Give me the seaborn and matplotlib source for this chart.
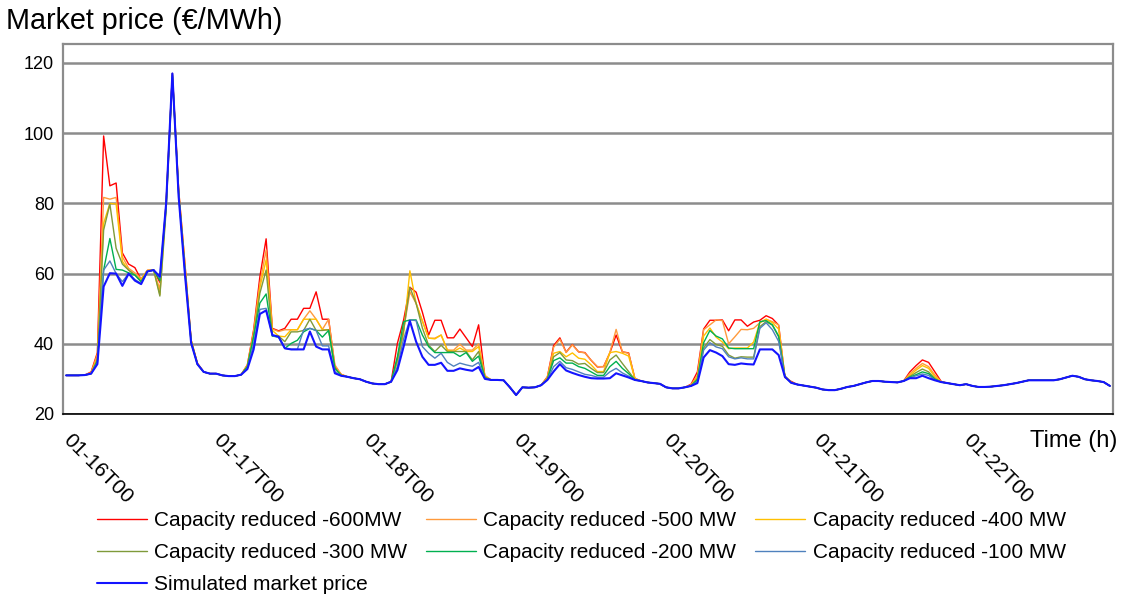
import matplotlib
matplotlib.use("Agg")
import matplotlib.pyplot as plt
import matplotlib.transforms as mtransforms
import seaborn as sns
from matplotlib.ticker import FixedLocator

# ---------------- data (hourly, 168 hours from 01-16T00) ----------------
hours = list(range(168))
day_ticks = [0, 24, 48, 72, 96, 120, 144]
day_labels = ["01-16T00", "01-17T00", "01-18T00", "01-19T00",
              "01-20T00", "01-21T00", "01-22T00"]
y_ticks = [20, 40, 60, 80, 100, 120]

simulated = [
    31.0, 31.0, 31.0, 31.1, 31.5, 34.2, 56.3, 60.1, 60.0, 56.5, 60.0, 58.0, 57.0, 60.6, 61.0, 59.1, 80.0, 117.0, 82.0, 60.0, 40.2, 34.2, 32.0, 31.5,
    31.5, 31.0, 30.8, 30.8, 31.2, 32.8, 38.4, 48.5, 49.5, 42.5, 42.0, 38.7, 38.4, 38.4, 38.4, 43.5, 39.2, 38.4, 38.4, 31.6, 30.9, 30.6, 30.2, 29.9,
    29.2, 28.7, 28.5, 28.5, 29.2, 32.5, 39.2, 46.5, 40.6, 36.3, 34.0, 34.0, 34.6, 32.3, 32.3, 33.0, 32.6, 32.3, 33.4, 30.0, 29.7, 29.7, 29.6, 27.6,
    25.4, 27.6, 27.5, 27.6, 28.2, 29.7, 32.1, 34.2, 32.4, 31.7, 31.1, 30.6, 30.2, 30.1, 30.1, 30.2, 31.6, 31.0, 30.4, 29.7, 29.4, 29.0, 28.8, 28.6,
    27.6, 27.3, 27.3, 27.6, 28.0, 28.8, 36.1, 38.2, 37.5, 36.5, 34.2, 34.0, 34.4, 34.2, 34.1, 38.4, 38.4, 38.4, 36.8, 30.6, 28.9, 28.4, 28.1, 27.8,
    27.5, 27.0, 26.8, 26.8, 27.2, 27.7, 28.0, 28.5, 29.0, 29.4, 29.4, 29.2, 29.1, 29.0, 29.4, 30.2, 30.2, 30.9, 30.2, 29.6, 29.1, 28.8, 28.5, 28.2,
    28.5, 28.0, 27.7, 27.7, 27.8, 28.0, 28.2, 28.5, 28.8, 29.2, 29.6, 29.6, 29.6, 29.6, 29.6, 29.9, 30.4, 30.9, 30.6, 29.9, 29.6, 29.4, 29.1, 28.0,
]

reduced_600 = [
    31.0, 31.0, 31.0, 31.1, 32.0, 37.5, 99.2, 85.0, 85.8, 65.9, 62.7, 61.7, 58.3, 60.9, 61.0, 57.5, 80.0, 117.0, 84.0, 63.0, 41.0, 34.5, 32.0, 31.5,
    31.5, 31.0, 30.8, 30.8, 31.2, 34.0, 44.0, 59.1, 69.9, 44.4, 43.7, 44.4, 47.0, 47.0, 50.1, 50.1, 54.8, 47.0, 47.0, 33.5, 31.3, 30.6, 30.2, 29.9,
    29.2, 28.7, 28.5, 28.5, 29.2, 40.1, 46.8, 56.1, 54.7, 49.0, 42.5, 46.7, 46.7, 41.7, 41.7, 44.2, 41.7, 39.2, 45.4, 30.6, 29.7, 29.7, 29.6, 27.6,
    25.4, 27.6, 27.5, 27.6, 28.2, 30.6, 39.5, 41.7, 37.6, 39.8, 37.7, 37.5, 35.3, 33.4, 33.5, 37.4, 42.5, 37.7, 37.4, 30.1, 29.4, 29.0, 28.8, 28.6,
    27.6, 27.3, 27.3, 27.6, 28.5, 32.0, 44.2, 46.7, 46.7, 46.8, 43.7, 46.8, 46.8, 45.0, 46.2, 46.7, 48.0, 47.2, 45.3, 30.4, 29.3, 28.4, 28.1, 27.8,
    27.5, 27.0, 26.8, 26.8, 27.2, 27.7, 28.0, 28.5, 29.0, 29.4, 29.4, 29.2, 29.1, 29.0, 29.4, 32.0, 33.8, 35.4, 34.7, 32.0, 29.3, 28.8, 28.5, 28.2,
    28.5, 28.0, 27.7, 27.7, 27.8, 28.0, 28.2, 28.5, 28.8, 29.2, 29.6, 29.6, 29.6, 29.6, 29.6, 29.9, 30.4, 30.9, 30.6, 29.9, 29.6, 29.4, 29.1, 28.0,
]

reduced_500 = [
    31.0, 31.0, 31.0, 31.1, 31.8, 37.0, 81.7, 81.2, 81.7, 64.8, 61.5, 60.2, 58.6, 60.9, 61.0, 55.5, 80.0, 117.0, 84.0, 63.0, 41.0, 34.5, 32.0, 31.5,
    31.5, 31.0, 30.8, 30.8, 31.2, 34.0, 43.5, 57.2, 66.7, 44.2, 43.5, 44.0, 44.0, 44.0, 47.0, 49.4, 47.0, 44.1, 47.0, 34.0, 31.3, 30.6, 30.2, 29.9,
    29.2, 28.7, 28.5, 28.5, 29.2, 36.0, 43.9, 54.8, 51.5, 46.5, 41.6, 41.6, 42.5, 38.2, 38.2, 39.9, 38.2, 38.2, 40.0, 31.0, 29.7, 29.7, 29.6, 27.6,
    25.4, 27.6, 27.5, 27.6, 28.2, 30.5, 39.0, 41.3, 37.5, 39.7, 37.7, 37.4, 35.3, 33.5, 33.5, 37.5, 44.1, 37.7, 37.3, 30.2, 29.4, 29.0, 28.8, 28.6,
    27.6, 27.3, 27.3, 27.6, 28.3, 31.0, 44.0, 45.4, 46.8, 46.6, 40.0, 42.0, 44.1, 44.0, 44.4, 46.0, 47.0, 46.3, 45.4, 30.8, 29.1, 28.4, 28.1, 27.8,
    27.5, 27.0, 26.8, 26.8, 27.2, 27.7, 28.0, 28.5, 29.0, 29.4, 29.4, 29.2, 29.1, 29.0, 29.4, 31.5, 33.0, 34.4, 33.5, 31.1, 29.2, 28.8, 28.5, 28.2,
    28.5, 28.0, 27.7, 27.7, 27.8, 28.0, 28.2, 28.5, 28.8, 29.2, 29.6, 29.6, 29.6, 29.6, 29.6, 29.9, 30.4, 30.9, 30.6, 29.9, 29.6, 29.4, 29.1, 28.0,
]

reduced_400 = [
    31.0, 31.0, 31.0, 31.1, 31.6, 36.0, 74.3, 80.0, 79.8, 63.5, 61.0, 59.6, 58.2, 60.9, 61.0, 54.0, 79.0, 116.5, 83.5, 62.0, 41.0, 34.3, 32.0, 31.5,
    31.5, 31.0, 30.8, 30.8, 31.2, 33.8, 42.5, 56.0, 63.9, 43.8, 42.2, 42.0, 44.0, 44.0, 47.0, 47.0, 47.0, 44.0, 44.0, 33.0, 31.2, 30.6, 30.2, 29.9,
    29.2, 28.7, 28.5, 28.5, 29.2, 34.8, 43.0, 60.8, 51.5, 46.5, 41.6, 41.4, 42.5, 38.2, 37.8, 38.8, 37.8, 37.8, 39.2, 30.8, 29.7, 29.7, 29.6, 27.6,
    25.4, 27.6, 27.5, 27.6, 28.2, 30.3, 37.3, 37.8, 36.3, 37.4, 35.9, 35.6, 34.0, 32.1, 32.1, 37.5, 37.8, 37.3, 36.5, 30.0, 29.4, 29.0, 28.8, 28.6,
    27.6, 27.3, 27.3, 27.6, 28.2, 30.5, 42.2, 44.5, 41.9, 40.5, 38.6, 38.8, 38.8, 38.8, 40.5, 46.0, 47.0, 46.0, 44.2, 30.8, 29.0, 28.4, 28.1, 27.8,
    27.5, 27.0, 26.8, 26.8, 27.2, 27.7, 28.0, 28.5, 29.0, 29.4, 29.4, 29.2, 29.1, 29.0, 29.4, 31.0, 32.5, 33.8, 33.0, 30.6, 29.1, 28.8, 28.5, 28.2,
    28.5, 28.0, 27.7, 27.7, 27.8, 28.0, 28.2, 28.5, 28.8, 29.2, 29.6, 29.6, 29.6, 29.6, 29.6, 29.9, 30.4, 30.9, 30.6, 29.9, 29.6, 29.4, 29.1, 28.0,
]

reduced_300 = [
    31.0, 31.0, 31.0, 31.1, 31.5, 35.5, 72.4, 79.8, 67.2, 62.7, 61.0, 59.6, 57.7, 60.6, 61.0, 53.6, 78.0, 116.0, 83.0, 61.5, 40.8, 34.2, 32.0, 31.5,
    31.5, 31.0, 30.8, 30.8, 31.2, 33.5, 42.0, 54.4, 61.0, 42.2, 42.2, 40.6, 43.4, 43.4, 43.8, 47.0, 43.8, 43.8, 44.0, 33.0, 31.0, 30.6, 30.2, 29.9,
    29.2, 28.7, 28.5, 28.5, 29.2, 35.5, 44.0, 56.1, 51.5, 44.5, 39.6, 37.8, 39.6, 37.8, 37.8, 37.8, 37.8, 35.4, 37.8, 30.5, 29.7, 29.7, 29.6, 27.6,
    25.4, 27.6, 27.5, 27.6, 28.2, 30.0, 36.3, 37.5, 35.4, 35.2, 34.2, 34.4, 33.0, 31.8, 31.8, 35.4, 36.8, 34.4, 32.1, 29.8, 29.4, 29.0, 28.8, 28.6,
    27.6, 27.3, 27.3, 27.6, 28.1, 30.0, 38.8, 41.2, 39.8, 39.3, 36.8, 35.9, 36.3, 36.2, 36.2, 44.9, 46.3, 45.3, 42.0, 30.7, 29.0, 28.4, 28.1, 27.8,
    27.5, 27.0, 26.8, 26.8, 27.2, 27.7, 28.0, 28.5, 29.0, 29.4, 29.4, 29.2, 29.1, 29.0, 29.4, 30.7, 31.8, 32.8, 32.0, 30.1, 29.1, 28.8, 28.5, 28.2,
    28.5, 28.0, 27.7, 27.7, 27.8, 28.0, 28.2, 28.5, 28.8, 29.2, 29.6, 29.6, 29.6, 29.6, 29.6, 29.9, 30.4, 30.9, 30.6, 29.9, 29.6, 29.4, 29.1, 28.0,
]

reduced_200 = [
    31.0, 31.0, 31.0, 31.1, 31.5, 35.0, 61.0, 70.0, 61.2, 61.0, 60.2, 59.6, 57.7, 60.6, 61.0, 58.0, 79.0, 116.5, 83.0, 61.0, 40.5, 34.2, 32.0, 31.5,
    31.5, 31.0, 30.8, 30.8, 31.2, 33.5, 42.0, 51.6, 54.2, 42.2, 41.9, 38.7, 40.1, 41.0, 43.4, 44.4, 43.8, 41.9, 43.8, 33.0, 31.0, 30.6, 30.2, 29.9,
    29.2, 28.7, 28.5, 28.5, 29.2, 36.3, 46.3, 46.8, 46.8, 42.5, 39.2, 37.5, 37.5, 37.5, 37.5, 36.4, 37.5, 35.0, 36.5, 30.3, 29.7, 29.7, 29.6, 27.6,
    25.4, 27.6, 27.5, 27.6, 28.2, 29.9, 35.2, 36.0, 34.5, 34.5, 33.5, 33.0, 32.0, 31.0, 31.0, 33.5, 35.0, 33.0, 31.5, 29.7, 29.4, 29.0, 28.8, 28.6,
    27.6, 27.3, 27.3, 27.6, 28.0, 29.8, 40.3, 43.8, 42.2, 41.4, 38.8, 38.6, 38.6, 38.6, 38.6, 46.3, 46.6, 45.4, 42.2, 30.7, 28.9, 28.4, 28.1, 27.8,
    27.5, 27.0, 26.8, 26.8, 27.2, 27.7, 28.0, 28.5, 29.0, 29.4, 29.4, 29.2, 29.1, 29.0, 29.4, 30.5, 31.2, 32.0, 31.5, 29.9, 29.1, 28.8, 28.5, 28.2,
    28.5, 28.0, 27.7, 27.7, 27.8, 28.0, 28.2, 28.5, 28.8, 29.2, 29.6, 29.6, 29.6, 29.6, 29.6, 29.9, 30.4, 30.9, 30.6, 29.9, 29.6, 29.4, 29.1, 28.0,
]

reduced_100 = [
    31.0, 31.0, 31.0, 31.1, 31.5, 34.6, 61.0, 63.6, 60.0, 57.7, 60.0, 58.3, 57.2, 60.6, 61.0, 58.8, 80.0, 117.0, 82.5, 60.5, 40.3, 34.2, 32.0, 31.5,
    31.5, 31.0, 30.8, 30.8, 31.2, 33.0, 40.0, 49.8, 50.1, 42.3, 41.9, 38.7, 38.4, 38.4, 44.0, 44.4, 43.8, 39.4, 39.4, 32.0, 30.9, 30.6, 30.2, 29.9,
    29.2, 28.7, 28.5, 28.5, 29.2, 33.5, 41.4, 46.8, 46.6, 39.2, 37.3, 35.9, 37.3, 34.7, 33.6, 34.5, 34.0, 33.6, 34.7, 30.1, 29.7, 29.7, 29.6, 27.6,
    25.4, 27.6, 27.5, 27.6, 28.2, 29.8, 33.5, 35.0, 33.2, 32.7, 32.0, 31.3, 31.0, 30.5, 30.5, 32.0, 33.0, 31.7, 30.8, 29.7, 29.4, 29.0, 28.8, 28.6,
    27.6, 27.3, 27.3, 27.6, 28.0, 29.3, 38.2, 40.3, 39.1, 38.6, 36.3, 35.7, 36.0, 35.7, 35.7, 44.4, 46.0, 44.0, 40.7, 30.7, 28.9, 28.4, 28.1, 27.8,
    27.5, 27.0, 26.8, 26.8, 27.2, 27.7, 28.0, 28.5, 29.0, 29.4, 29.4, 29.2, 29.1, 29.0, 29.4, 30.3, 30.9, 31.4, 31.0, 29.7, 29.1, 28.8, 28.5, 28.2,
    28.5, 28.0, 27.7, 27.7, 27.8, 28.0, 28.2, 28.5, 28.8, 29.2, 29.6, 29.6, 29.6, 29.6, 29.6, 29.9, 30.4, 30.9, 30.6, 29.9, 29.6, 29.4, 29.1, 28.0,
]

series_names = ["Capacity reduced -600MW", "Capacity reduced -500 MW",
                "Capacity reduced -400 MW", "Capacity reduced -300 MW",
                "Capacity reduced -200 MW", "Capacity reduced -100 MW",
                "Simulated market price"]
series_values = [reduced_600, reduced_500, reduced_400, reduced_300,
                 reduced_200, reduced_100, simulated]
series_colors = ["#FF0000", "#FF9A3C", "#FFC000", "#7F9A3A",
                 "#00B050", "#4F81BD", "#1414FF"]
series_widths = [1.0, 1.0, 1.0, 1.0, 1.0, 1.0, 1.5]

# ---------------- figure ----------------
sns.set_style("white")
plt.rcParams["font.family"] = ["Liberation Sans", "DejaVu Sans"]
plt.rcParams["text.color"] = "black"
plt.rcParams["xtick.color"] = "black"
plt.rcParams["ytick.color"] = "black"
plt.rcParams["axes.labelcolor"] = "black"

W, H = 1139, 595
fig = plt.figure(figsize=(W / 100, H / 100), dpi=100)
ax = fig.add_axes([63 / W, 1 - 414 / H, 1050 / W, 370 / H])

for name, vals, col, lw in zip(series_names, series_values, series_colors, series_widths):
    sns.lineplot(x=hours, y=vals, color=col, linewidth=lw, ax=ax, label=name)
if ax.get_legend() is not None:
    ax.get_legend().remove()
handles, labels = ax.get_legend_handles_labels()

ax.set_xlim(-0.5, 167.5)
ax.set_ylim(20, 125.4)
ax.set_xlabel("")
ax.set_ylabel("")

ax.yaxis.set_major_locator(FixedLocator(y_ticks))
ax.set_yticklabels([str(v) for v in y_ticks], fontsize=13, color="black")
ax.yaxis.grid(True, color="#8C8C8C", linewidth=1.8)
ax.xaxis.grid(False)
ax.set_axisbelow(True)

ax.xaxis.set_major_locator(FixedLocator(day_ticks))
ax.xaxis.set_minor_locator(FixedLocator([h for h in hours]))
ax.tick_params(axis="x", which="both", length=5, width=1.0, color="black",
               direction="out", pad=8)
ax.tick_params(axis="y", which="major", length=5, width=1.2, color="#8C8C8C",
               direction="out", pad=1.5, labelcolor="black")
ax.set_xticklabels(day_labels, rotation=-45, ha="left", va="top",
                   rotation_mode="anchor", fontsize=15, color="black")
shift = mtransforms.ScaledTranslation(7 / 100, 2 / 100, fig.dpi_scale_trans)
for lab in ax.get_xticklabels():
    lab.set_transform(lab.get_transform() + shift)

for side in ["left", "top", "right"]:
    ax.spines[side].set_color("#8C8C8C")
    ax.spines[side].set_linewidth(1.6)
ax.spines["bottom"].set_color("black")
ax.spines["bottom"].set_linewidth(1.2)

fig.text(6 / W, 1 - 21 / H, "Market price (€/MWh)", ha="left", va="center",
         fontsize=20.7, color="black")
fig.text(1117 / W, 1 - 441 / H, "Time (h)", ha="right", va="center",
         fontsize=17, color="black")

order = [0, 3, 6, 1, 4, 2, 5]
fig.legend([handles[i] for i in order], [labels[i] for i in order],
           ncol=3, loc="upper left", bbox_to_anchor=(97 / W, 1 - 511 / H),
           frameon=False, fontsize=15, handlelength=2.4, handletextpad=0.35,
           columnspacing=0.9, labelspacing=0.62, borderpad=0, borderaxespad=0,
           labelcolor="black")

fig.savefig("out.png", dpi=100)
